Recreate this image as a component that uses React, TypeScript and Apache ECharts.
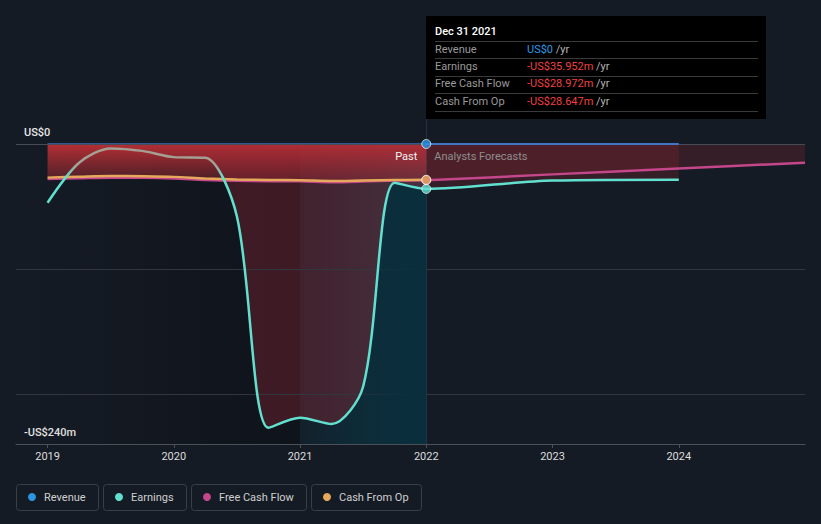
import React, { useEffect, useRef } from "react";
import * as echarts from "echarts";

// ---------- data ----------
const pastDates = [2019, 2019.25, 2019.5, 2019.75, 2020, 2020.25, 2020.5, 2020.75, 2021, 2021.25, 2021.5, 2021.75, 2022];
const earningsPast = [-47, -15, -3.5, -5.5, -10.5, -11, -58, -227, -219, -224, -194, -31, -35.952];
const cashFromOpPast = [-26.9, -26.2, -25.6, -25.8, -26.3, -27.6, -28.4, -28.8, -29.0, -29.6, -29.2, -28.8, -28.647];
const fcfPast = [-28.0, -27.4, -26.9, -27.0, -27.6, -28.8, -29.5, -29.8, -29.9, -30.6, -30.1, -29.3, -28.972];
const revenuePast = [0, 0, 0, 0, 0, 0, 0, 0, 0, 0, 0, 0, 0];

const earningsForecastDates = [2022, 2023, 2024];
const earningsForecast = [-35.952, -29.2, -28.5];
const fcfForecastDates = [2022, 2023, 2024, 2025];
const fcfForecast = [-28.972, -24.3, -19.6, -15];
const revenueForecastDates = [2022, 2023, 2024];
const revenueForecast = [0, 0, 0];

const xTicks = [2019, 2020, 2021, 2022, 2023, 2024];
const yTicks = [0, -240];
const gridValues = [0, -100, -200];

const legendNames = ["Revenue", "Earnings", "Free Cash Flow", "Cash From Op"];
const tooltipDate = "Dec 31 2021";
const hoverDate = 2022;
const pastStart = 2021;

// ---------- style ----------
const BG = "#151b25";
const FONT = 'Roboto, "Noto Sans", sans-serif';
const COL = {
  revenue: "#2b95e2",
  earnings: "#62e0cf",
  fcf: "#c4468b",
  cash: "#e6a95c",
  grey: "#a59e93",
};
const legendColors = [COL.revenue, COL.earnings, COL.fcf, COL.cash];

const pts = (xs: number[], ys: number[]) => ys.map((y, i) => [xs[i], y]);
const fmt = (v: number) => (v === 0 ? "US$0" : `${v < 0 ? "-" : ""}US$${Math.abs(v).toFixed(3)}m`);
const yFmt = (v: number) => (v === 0 ? "US$0" : `${v < 0 ? "-" : ""}US$${Math.abs(v)}m`);

const lineBase = {
  type: "line",
  smooth: 0.3,
  showSymbol: false,
  symbol: "none",
  silent: true,
  emphasis: { disabled: true },
};

function measure(text: string, font: string) {
  const c = document.createElement("canvas").getContext("2d")!;
  c.font = font;
  return c.measureText(text).width;
}

export default function App() {
  const ref = useRef<HTMLDivElement>(null);
  useEffect(() => {
    const el = ref.current!;
    const chart = echarts.init(el, null, { renderer: "svg" });

    const earningsAll = pts(pastDates, earningsPast).concat(pts(earningsForecastDates, earningsForecast).slice(1));
    const fcfAll = pts(pastDates, fcfPast).concat(pts(fcfForecastDates, fcfForecast).slice(1));

    const option: any = {
      animation: false,
      backgroundColor: BG,
      textStyle: { fontFamily: FONT },
      grid: { left: 16, right: 16, top: 144, bottom: 80 },
      xAxis: {
        type: "value",
        min: 2018.75,
        max: 2025,
        axisLine: { onZero: false, lineStyle: { color: "#4b4f58", width: 1 } },
        axisTick: { show: true, customValues: xTicks, length: 4, lineStyle: { color: "#4b4f58" } },
        axisLabel: { customValues: xTicks, color: "#dcdcdc", fontSize: 11, margin: 7, formatter: (v: number) => String(v) },
        splitLine: { show: false },
      },
      yAxis: {
        type: "value",
        min: -240,
        max: 0,
        axisLine: { show: false },
        axisTick: { show: false },
        splitLine: { show: false },
        axisLabel: {
          customValues: yTicks,
          inside: true,
          margin: 8,
          color: "#e8e8e8",
          fontSize: 11,
          fontWeight: 500,
          verticalAlign: "bottom",
          padding: [0, 0, 6, 0],
          formatter: (v: number) => yFmt(v),
        },
      },
      series: [
        {
          id: "frame",
          type: "line",
          data: [],
          z: 1,
          silent: true,
          markArea: {
            silent: true,
            data: [[
              { xAxis: 2018.75, itemStyle: { color: new echarts.graphic.LinearGradient(0, 0, 1, 0, [
                { offset: 0, color: "rgba(0,0,0,0)" },
                { offset: 1, color: "rgba(0,0,0,0.28)" },
              ]) } },
              { xAxis: pastStart },
            ]],
          },
          markLine: {
            silent: true,
            symbol: "none",
            label: { show: false },
            data: gridValues.map((v) => ({ yAxis: v, lineStyle: { color: v === 0 ? "#474b55" : "#32363f", width: 1, type: "solid" } })),
          },
        },
        {
          ...lineBase,
          id: "revenuePast",
          data: pts(pastDates, revenuePast),
          z: 2,
          clip: false,
          lineStyle: { color: "#3a6fb8", width: 1.5 },
        },
        {
          ...lineBase,
          id: "cashArea",
          data: pts(pastDates, cashFromOpPast),
          z: 3,
          lineStyle: { width: 0 },
          areaStyle: {
            opacity: 1,
            color: new echarts.graphic.LinearGradient(0, 0, 0, 1, [
              { offset: 0, color: "rgba(190,48,54,0.95)" },
              { offset: 1, color: "rgba(175,44,50,0.35)" },
            ]),
          },
        },
        {
          ...lineBase,
          id: "earningsArea",
          data: pts(pastDates, earningsPast),
          z: 3,
          lineStyle: { width: 0 },
          areaStyle: {
            opacity: 1,
            color: new echarts.graphic.LinearGradient(0, 0, 1, 0, [
              { offset: 0, color: "rgba(160,40,55,0)" },
              { offset: 0.5, color: "rgba(160,40,55,0.32)" },
              { offset: 1, color: "rgba(160,40,55,0.32)" },
            ]),
          },
        },
        {
          ...lineBase,
          id: "earningsFcArea",
          data: pts(earningsForecastDates, earningsForecast),
          z: 3,
          lineStyle: { width: 0 },
          areaStyle: { opacity: 1, color: "rgba(150,40,48,0.25)" },
        },
        {
          ...lineBase,
          id: "fcfFcArea",
          data: pts(fcfForecastDates, fcfForecast),
          z: 3,
          lineStyle: { width: 0 },
          areaStyle: { opacity: 1, color: "rgba(150,40,48,0.25)" },
        },
        {
          ...lineBase,
          id: "fcfLine",
          data: fcfAll,
          z: 4,
          lineStyle: { color: COL.fcf, width: 2.5 },
        },
        {
          ...lineBase,
          id: "cashLine",
          data: pts(pastDates, cashFromOpPast),
          z: 4,
          lineStyle: { color: COL.cash, width: 2.5 },
        },
        {
          id: "band",
          type: "line",
          data: [],
          z: 5,
          silent: true,
          markArea: {
            silent: true,
            data: [[
              { xAxis: pastStart, itemStyle: { color: new echarts.graphic.LinearGradient(0, 0, 1, 0, [
                { offset: 0, color: "rgba(20,85,100,0.06)" },
                { offset: 1, color: "rgba(40,95,115,0.42)" },
              ]) } },
              { xAxis: hoverDate },
            ]],
          },
        },
        {
          ...lineBase,
          id: "tealArea",
          data: pts(pastDates, earningsPast),
          z: 6,
          lineStyle: { width: 0 },
          areaStyle: { origin: "start", opacity: 1, color: "rgba(0,0,0,0)" },
        },
        {
          ...lineBase,
          id: "earningsLine",
          data: earningsAll,
          z: 7,
          lineStyle: { color: COL.earnings, width: 2.5 },
        },
        {
          ...lineBase,
          id: "revenueFc",
          data: pts(revenueForecastDates, revenueForecast),
          z: 7,
          clip: false,
          lineStyle: { color: "#4175c4", width: 2 },
        },
        {
          id: "dots",
          type: "scatter",
          z: 8,
          clip: false,
          silent: true,
          symbolSize: 9,
          data: [
            { value: [hoverDate, fcfPast[fcfPast.length - 1]], itemStyle: { color: COL.fcf } },
            { value: [hoverDate, cashFromOpPast[cashFromOpPast.length - 1]], itemStyle: { color: COL.cash } },
            { value: [hoverDate, earningsPast[earningsPast.length - 1]], itemStyle: { color: COL.earnings } },
            { value: [hoverDate, revenuePast[revenuePast.length - 1]], itemStyle: { color: COL.revenue } },
          ],
          itemStyle: { borderColor: "rgba(255,255,255,0.85)", borderWidth: 1 },
        },
      ],
    };
    chart.setOption(option);

    const toPx = (x: number, y: number) => chart.convertToPixel({ xAxisIndex: 0, yAxisIndex: 0 }, [x, y]) as number[];
    const [xL, yBottom] = toPx(2018.75, -240);
    const [xPast] = toPx(pastStart, 0);
    const [xHover, yZero] = toPx(hoverDate, 0);
    const yGreyEnd = toPx(hoverDate, -17)[1];
    const yTealStart = toPx(hoverDate, -27)[1];
    const o = (xPast - xL) / (xHover - xL);

    const earningsGrad = new echarts.graphic.LinearGradient(0, yGreyEnd, 0, yTealStart, [
      { offset: 0, color: COL.grey },
      { offset: 1, color: COL.earnings },
    ], true);
    const tealGrad = new echarts.graphic.LinearGradient(xL, 0, xHover, 0, [
      { offset: 0, color: "rgba(0,48,64,0)" },
      { offset: Math.max(0, o - 0.0005), color: "rgba(0,48,64,0)" },
      { offset: o, color: "rgba(0,45,60,0.1)" },
      { offset: 1, color: "rgba(4,44,58,0.8)" },
    ], true);

    // tooltip
    const tipFont = `11px ${FONT}`;
    const tipX = 426, tipY = 16, tipW = 340, tipH = 103;
    const lastVals = [
      revenuePast[revenuePast.length - 1],
      earningsPast[earningsPast.length - 1],
      fcfPast[fcfPast.length - 1],
      cashFromOpPast[cashFromOpPast.length - 1],
    ];
    const tipEls: any[] = [
      { type: "rect", shape: { x: tipX, y: tipY, width: tipW, height: tipH }, style: { fill: "#000" }, z: 50 },
      { type: "text", x: tipX + 9, y: tipY + 15, z: 51, style: { text: tooltipDate, fill: "#fff", font: `500 11px ${FONT}`, textVerticalAlign: "middle" } },
    ];
    for (let i = 0; i < 5; i++) {
      const ly = Math.round(41 + i * 17.4) + 0.5;
      tipEls.push({ type: "line", z: 51, shape: { x1: tipX + 9, y1: ly, x2: tipX + 332, y2: ly }, style: { stroke: "#3a3a3a", lineWidth: 1 } });
    }
    legendNames.forEach((n, i) => {
      const ry = 49.5 + i * 17.2;
      const v = lastVals[i];
      const vt = fmt(v);
      const vx = tipX + 101;
      tipEls.push({ type: "text", x: tipX + 9, y: ry, z: 51, style: { text: n, fill: "#9a9a9a", font: tipFont, textVerticalAlign: "middle" } });
      tipEls.push({ type: "text", x: vx, y: ry, z: 51, style: { text: vt, fill: v === 0 ? "#2a9be6" : "#f0413f", font: tipFont, textVerticalAlign: "middle" } });
      tipEls.push({ type: "text", x: vx + measure(vt + " ", tipFont), y: ry, z: 51, style: { text: "/yr", fill: "#b5b5b5", font: tipFont, textVerticalAlign: "middle" } });
    });

    // legend
    const legFont = `11px ${FONT}`;
    const legEls: any[] = [];
    let lx = 16;
    legendNames.forEach((n, i) => {
      const w = Math.round(28 + measure(n, legFont) + 12);
      legEls.push({ type: "rect", z: 10, shape: { x: lx + 0.5, y: 484.5, width: w, height: 26, r: 3 }, style: { fill: "none", stroke: "#3a3e47", lineWidth: 1 } });
      legEls.push({ type: "circle", z: 11, shape: { cx: lx + 16, cy: 497, r: 4 }, style: { fill: legendColors[i] } });
      legEls.push({ type: "text", z: 11, x: lx + 28, y: 497.5, style: { text: n, fill: "#cfcfcf", font: legFont, textVerticalAlign: "middle" } });
      lx += w + 5;
    });

    chart.setOption({
      series: [
        { id: "earningsLine", lineStyle: { color: earningsGrad } },
        { id: "tealArea", areaStyle: { color: tealGrad } },
      ],
      graphic: [
        { type: "line", z: 0, silent: true, shape: { x1: Math.round(xHover) + 0.5, y1: tipY + tipH, x2: Math.round(xHover) + 0.5, y2: yBottom }, style: { stroke: "#1f3343", lineWidth: 1 } },
        { type: "text", z: 20, x: xHover - 9, y: yZero + 12, style: { text: "Past", fill: "#f2f2f2", font: `11px ${FONT}`, textAlign: "right", textVerticalAlign: "middle" } },
        { type: "text", z: 20, x: xHover + 8, y: yZero + 12, style: { text: "Analysts Forecasts", fill: "#8e8e8e", font: `11px ${FONT}`, textAlign: "left", textVerticalAlign: "middle" } },
        ...tipEls,
        ...legEls,
      ],
    });

    return () => chart.dispose();
  }, []);
  return <div ref={ref} style={{ position: "fixed", left: 0, top: 0, width: 821, height: 524 }} />;
}
